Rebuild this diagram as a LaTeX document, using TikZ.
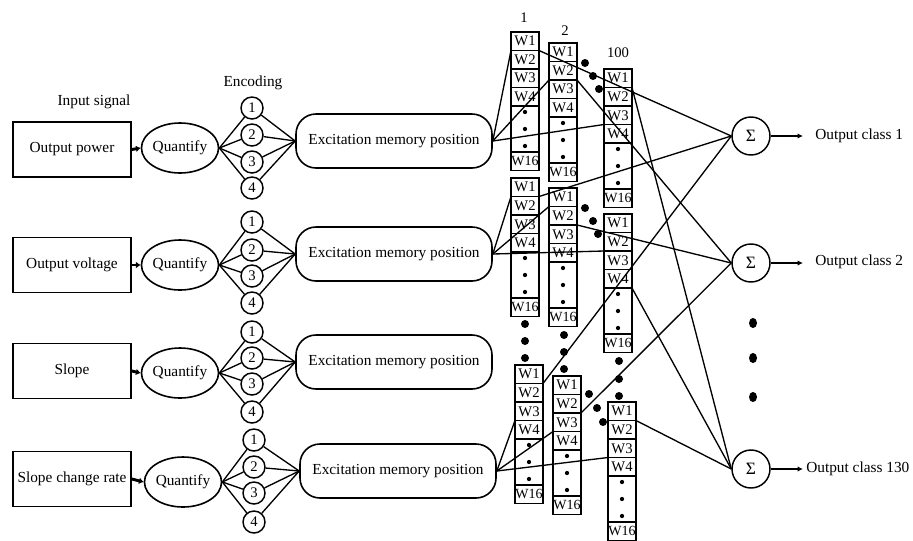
\documentclass[tikz,border=0pt]{standalone}
\usepackage{fontspec}
\setmainfont{Liberation Serif}
\usetikzlibrary{arrows.meta,shapes.geometric}
\newcommand\memcol[3]{%
  \node[cell, anchor=north west] (#1-1) at (#2,#3) {W1};
  \node[cell, anchor=north] (#1-2) at (#1-1.south) {W2};
  \node[cell, anchor=north] (#1-3) at (#1-2.south) {W3};
  \node[cell, anchor=north] (#1-4) at (#1-3.south) {W4};
  \node[dotcell, anchor=north] (#1-d) at (#1-4.south) {};
  \node[cell, anchor=north, font=\fontsize{10.5}{10.5}\selectfont] (#1-16) at (#1-d.south) {W16};
  \fill (#1-d.center) circle[radius=1.6pt];
  \fill ([yshift=12.75pt]#1-d.center) circle[radius=1.6pt];
  \fill ([yshift=-12.75pt]#1-d.center) circle[radius=1.6pt];
}
\begin{document}
\begin{tikzpicture}[x=0.75pt,y=-0.75pt,
 lbl/.style={font=\fontsize{11.5}{13}\selectfont, inner sep=0},
 inbox/.style={draw, line width=1.2pt, minimum width=88.5pt, minimum height=41pt, inner sep=0, font=\fontsize{11.5}{13}\selectfont},
 quant/.style={draw, ellipse, line width=1.2pt, minimum width=48pt, minimum height=37.5pt, inner sep=0, font=\fontsize{11.5}{13}\selectfont},
 enc/.style={draw, circle, line width=1.1pt, minimum size=16.5pt, inner sep=0, font=\fontsize{11}{12}\selectfont},
 excit/.style={draw, rounded corners=15pt, line width=1.2pt, minimum width=147pt, minimum height=40.5pt, inner sep=0, font=\fontsize{11.5}{13}\selectfont},
 cell/.style={draw, line width=1.2pt, minimum width=21pt, minimum height=13.875pt, inner sep=0, outer sep=0, font=\fontsize{11}{11}\selectfont},
 dotcell/.style={draw, line width=1.2pt, minimum width=21pt, minimum height=34.5pt, inner sep=0, outer sep=0},
 sumn/.style={draw, circle, line width=1.1pt, minimum size=28.5pt, inner sep=0, font=\fontsize{13}{13}\selectfont},
 conn/.style={line width=1pt},
 inarrow/.style={line width=2.2pt, -{Latex[length=3.5pt,width=5pt]}},
 outarrow/.style={line width=1.6pt, -{Latex[length=4pt,width=4pt]}},
 bigdot/.style={fill=black},
]
\useasboundingbox (0,0) rectangle (913,540);

% labels
\node[lbl] (tin) at (94,102) {Input signal};
\node[lbl] (tenc) at (253,83) {Encoding};

% rows: input boxes, quantify, encoding, excitation
\node[inbox] (b1) at (72,149.5) {Output power};
\node[inbox] (b2) at (72,265) {Output voltage};
\node[inbox] (b3) at (72,371) {Slope};
\node[inbox] (b4) at (72,479) {Slope change rate};

\node[quant] (q1) at (180,148) {Quantify};
\node[quant] (q2) at (180,265) {Quantify};
\node[quant] (q3) at (180,373) {Quantify};
\node[quant] (q4) at (183,482) {Quantify};

\node[excit] (e1) at (394,141) {Excitation memory position};
\node[excit] (e2) at (394,254) {Excitation memory position};
\node[excit] (e3) at (394,362) {Excitation memory position};
\node[excit] (e4) at (398,471) {Excitation memory position};

\foreach \r/\x/\ya/\yb/\yc/\yd in {1/252/108/135/162/188, 2/252/222/250/276/303, 3/252/332/358/384/412, 4/254/440/467/493/522}{
  \node[enc] (n\r-1) at (\x,\ya) {1};
  \node[enc] (n\r-2) at (\x,\yb) {2};
  \node[enc] (n\r-3) at (\x,\yc) {3};
  \node[enc] (n\r-4) at (\x,\yd) {4};
  \draw[inarrow] (b\r.east) -- (q\r.west);
  \foreach \k in {1,2,3,4}{
    \draw[conn] (q\r.east) -- (n\r-\k);
    \draw[conn] (n\r-\k) -- (e\r.west);
  }
}

% memory columns
\node[lbl, font=\fontsize{11}{12}\selectfont] (l1) at (524,18) {1};
\node[lbl, font=\fontsize{11}{12}\selectfont] (l2) at (565,31) {2};
\node[lbl, font=\fontsize{11}{12}\selectfont] (l100) at (618,53) {100};

\memcol{a1}{511}{32}
\memcol{a2}{549}{43}
\memcol{a3}{604}{69}
\memcol{b1}{511}{178}
\memcol{b2}{549}{188}
\memcol{b3}{604}{214}
\memcol{d1}{515}{365}
\memcol{d2}{553}{376}
\memcol{d3}{608}{402}

% big dots
\foreach \px/\py in {585/63, 593/76, 599/89, 585/208, 593/221, 598/234, 589/394, 597/408, 603/422,
  525/324, 525/341, 525/358, 564/335, 564/352, 564/369, 619/361, 619/379, 619/396}{
  \fill[bigdot] (\px,\py) circle[radius=3pt];
}
\foreach \py in {323,358,397}{
  \fill[bigdot] (753,\py) ellipse[x radius=3pt, y radius=3.8pt];
}

% sum nodes
\node[sumn] (s1) at (751,136) {Σ};
\node[sumn] (s2) at (751,263) {Σ};
\node[sumn] (s3) at (751,469) {Σ};
\coordinate (o1) at (803,136);
\coordinate (o2) at (803,263);
\coordinate (o3) at (803,469);
\draw[outarrow] (s1.east) -- (o1);
\draw[outarrow] (s2.east) -- (o2);
\draw[outarrow] (s3.east) -- (o3);
\node[lbl, anchor=west] (t1) at (815,136) {Output class 1};
\node[lbl, anchor=west] (t2) at (815,262) {Output class 2};
\node[lbl, anchor=west] (t3) at (806,469) {Output class 130};

% excitation -> memory
\draw[conn] (e1.east) -- (a1-2.north west);
\draw[conn] (e1.east) -- (a2-3.north west);
\draw[conn] (e1.east) -- (a3-4.north west);
\draw[conn] (e2.east) -- (b1-2.north west);
\draw[conn] (e2.east) -- (b2-2.north west);
\draw[conn] (e2.east) -- (b3-3.north west);
\draw[conn] (e4.east) -- (d1-4.north west);
\draw[conn] (e4.east) -- (d2-4.north west);
\draw[conn] (e4.east) -- (d3-4.north west);

% memory -> sums
\draw[conn] (a1-2.north east) -- (s1.west);
\draw[conn] (b1-2.north east) -- (s1.west);
\draw[conn] (d1-2.north east) -- (s1.west);
\draw[conn] (a2-3.north east) -- (s2.west);
\draw[conn] (b2-3.north east) -- (s2.west);
\draw[conn] (d2-3.north east) -- (s2.west);
\draw[conn] (a3-2.north east) -- (s3.west);
\draw[conn] (b3-4.south east) -- (s3.west);
\draw[conn] (d3-2.north east) -- (s3.west);
\end{tikzpicture}
\end{document}
